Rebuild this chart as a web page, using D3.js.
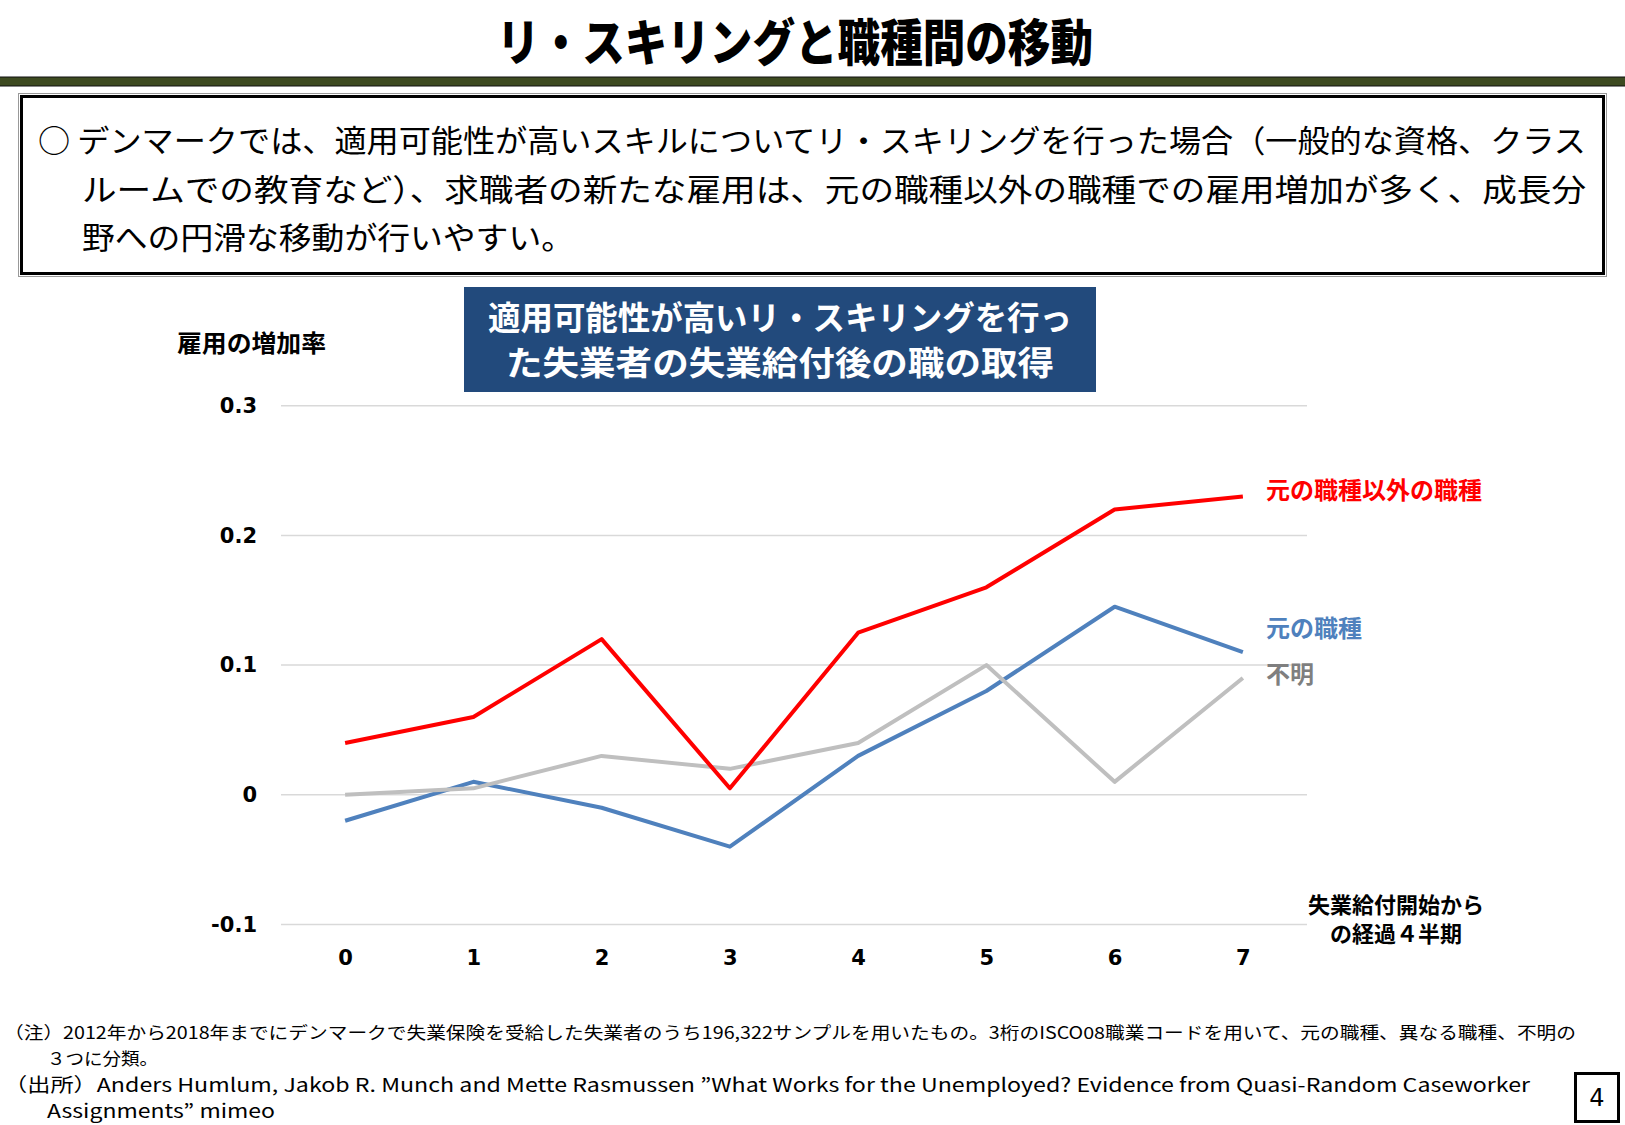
<!DOCTYPE html>
<html>
<head>
<meta charset="utf-8">
<script src="https://cdn.jsdelivr.net/npm/d3@7"></script>
<style>
  body { margin: 0; background: #fff; }
  svg { display: block; }
</style>
</head>
<body>
<svg id="slide" width="1625" height="1125"></svg>
<script>
// data
const quarters = [0, 1, 2, 3, 4, 5, 6, 7];
const otherJob = [0.04, 0.06, 0.12, 0.005, 0.125, 0.16, 0.22, 0.23];
const sameJob = [-0.02, 0.01, -0.01, -0.04, 0.03, 0.08, 0.145, 0.11];
const unknownJob = [0, 0.005, 0.03, 0.02, 0.04, 0.1, 0.01, 0.09];
const yTicks = [-0.1, 0, 0.1, 0.2, 0.3];
const yTickLabels = ["-0.1", "0", "0.1", "0.2", "0.3"];
const seriesNames = ["元の職種以外の職種", "元の職種", "不明"];

const jpFont = "'Noto Sans CJK JP', 'Noto Sans', sans-serif";
const numFont = "'DejaVu Sans', Verdana, sans-serif";

const svg = d3.select("#slide");

// page title
svg
  .append("text")
  .attr("x", 497)
  .attr("y", 39)
  .attr("dominant-baseline", "central")
  .attr("font-family", jpFont)
  .attr("font-weight", 900)
  .attr("font-size", 50)
  .attr("textLength", 596)
  .attr("lengthAdjust", "spacingAndGlyphs")
  .text("リ・スキリングと職種間の移動");

// green rule under the title
svg
  .append("rect")
  .attr("x", -1)
  .attr("y", 77)
  .attr("width", 1627)
  .attr("height", 9)
  .attr("fill", "#3d4a20")
  .attr("stroke", "#111")
  .attr("stroke-width", 1);

// summary box
svg
  .append("rect")
  .attr("x", 18.5)
  .attr("y", 93.5)
  .attr("width", 1588)
  .attr("height", 183)
  .attr("fill", "none")
  .attr("stroke", "#999")
  .attr("stroke-width", 1);
svg
  .append("rect")
  .attr("x", 21.5)
  .attr("y", 96.5)
  .attr("width", 1582)
  .attr("height", 177)
  .attr("fill", "#fff")
  .attr("stroke", "#000")
  .attr("stroke-width", 3);

const summaryLines = [
  { text: "○ デンマークでは、適用可能性が高いスキルについてリ・スキリングを行った場合（一般的な資格、クラス", x: 38, y: 138, w: 1548 },
  { text: "ルームでの教育など）、求職者の新たな雇用は、元の職種以外の職種での雇用増加が多く、成長分", x: 82, y: 187, w: 1504 },
  { text: "野への円滑な移動が行いやすい。", x: 82, y: 235, w: 492 },
];
svg
  .selectAll(".summary")
  .data(summaryLines)
  .join("text")
  .attr("class", "summary")
  .attr("x", (d) => d.x)
  .attr("y", (d) => d.y)
  .attr("dominant-baseline", "central")
  .attr("font-family", jpFont)
  .attr("font-size", 31)
  .attr("textLength", (d) => d.w)
  .attr("lengthAdjust", "spacingAndGlyphs")
  .text((d) => d.text);

// scales
const xScale = d3.scalePoint().domain(quarters).range([281, 1307]).padding(0.5);
const yScale = d3.scaleLinear().domain([-0.1, 0.3]).range([924.5, 405.7]);

// gridlines
svg
  .append("g")
  .selectAll("line")
  .data(yTicks)
  .join("line")
  .attr("x1", 281)
  .attr("x2", 1307)
  .attr("y1", (d) => yScale(d))
  .attr("y2", (d) => yScale(d))
  .attr("stroke", "#d9d9d9")
  .attr("stroke-width", 1.5);

// y axis labels
const yAxis = svg
  .append("g")
  .attr("transform", "translate(281,0)")
  .call(
    d3
      .axisLeft(yScale)
      .tickValues(yTicks)
      .tickSize(0)
      .tickPadding(24)
      .tickFormat((d, i) => yTickLabels[i])
  );
yAxis.select(".domain").remove();
yAxis
  .selectAll("text")
  .attr("font-family", numFont)
  .attr("font-weight", "bold")
  .attr("font-size", 21)
  .attr("fill", "#000");

// x axis labels
const xAxis = svg
  .append("g")
  .attr("transform", "translate(0,946)")
  .call(d3.axisBottom(xScale).tickSize(0).tickPadding(4));
xAxis.select(".domain").remove();
xAxis
  .selectAll("text")
  .attr("font-family", numFont)
  .attr("font-weight", "bold")
  .attr("font-size", 21)
  .attr("fill", "#000");

// lines
const series = [
  { name: seriesNames[1], values: sameJob, color: "#4f81bd" },
  { name: seriesNames[2], values: unknownJob, color: "#bfbfbf" },
  { name: seriesNames[0], values: otherJob, color: "#ff0000" },
];
const line = d3
  .line()
  .x((d, i) => xScale(quarters[i]))
  .y((d) => yScale(d));

svg
  .append("g")
  .selectAll("path")
  .data(series)
  .join("path")
  .attr("d", (d) => line(d.values))
  .attr("fill", "none")
  .attr("stroke", (d) => d.color)
  .attr("stroke-width", 4)
  .attr("stroke-linejoin", "round");

// series labels
const seriesLabels = [
  { text: seriesNames[0], y: 488, color: "#ff0000" },
  { text: seriesNames[1], y: 626, color: "#4f81bd" },
  { text: seriesNames[2], y: 672, color: "#7f7f7f" },
];
svg
  .selectAll(".series-label")
  .data(seriesLabels)
  .join("text")
  .attr("class", "series-label")
  .attr("x", 1266)
  .attr("y", (d) => d.y)
  .attr("dominant-baseline", "central")
  .attr("font-family", jpFont)
  .attr("font-weight", "bold")
  .attr("font-size", 24)
  .attr("fill", (d) => d.color)
  .text((d) => d.text);

// y axis title
svg
  .append("text")
  .attr("x", 177)
  .attr("y", 341)
  .attr("dominant-baseline", "central")
  .attr("font-family", jpFont)
  .attr("font-weight", "bold")
  .attr("font-size", 24)
  .attr("textLength", 149)
  .attr("lengthAdjust", "spacingAndGlyphs")
  .text("雇用の増加率");

// chart title box
svg
  .append("rect")
  .attr("x", 464)
  .attr("y", 287)
  .attr("width", 632)
  .attr("height", 105)
  .attr("fill", "#224a7c");
svg
  .selectAll(".chart-title")
  .data([
    { text: "適用可能性が高いリ・スキリングを行っ", w: 584 },
    { text: "た失業者の失業給付後の職の取得", w: 548 },
  ])
  .join("text")
  .attr("class", "chart-title")
  .attr("x", 780)
  .attr("y", (d, i) => 316 + i * 45)
  .attr("text-anchor", "middle")
  .attr("dominant-baseline", "central")
  .attr("font-family", jpFont)
  .attr("font-weight", "bold")
  .attr("font-size", 33)
  .attr("fill", "#fff")
  .attr("textLength", (d) => d.w)
  .attr("lengthAdjust", "spacingAndGlyphs")
  .text((d) => d.text);

// x axis title
svg
  .selectAll(".x-title")
  .data(["失業給付開始から", "の経過４半期"])
  .join("text")
  .attr("class", "x-title")
  .attr("x", 1396)
  .attr("y", (d, i) => 903 + i * 29)
  .attr("text-anchor", "middle")
  .attr("dominant-baseline", "central")
  .attr("font-family", jpFont)
  .attr("font-weight", "bold")
  .attr("font-size", 22)
  .text((d) => d);

// footnotes
const notes = [
  { text: "（注）2012年から2018年までにデンマークで失業保険を受給した失業者のうち196,322サンプルを用いたもの。3桁のISCO08職業コードを用いて、元の職種、異なる職種、不明の", x: 4, y: 1031, w: 1572, size: 17 },
  { text: "３つに分類。", x: 47, y: 1057, w: 111, size: 17 },
  { text: "（出所）Anders Humlum, Jakob R. Munch and Mette Rasmussen ”What Works for the Unemployed? Evidence from Quasi-Random Caseworker", x: 4, y: 1083, w: 1526, size: 19 },
  { text: "Assignments” mimeo", x: 47, y: 1109, w: 228, size: 19 },
];
svg
  .selectAll(".note")
  .data(notes)
  .join("text")
  .attr("class", "note")
  .attr("x", (d) => d.x)
  .attr("y", (d) => d.y)
  .attr("dominant-baseline", "central")
  .attr("font-family", jpFont)
  .attr("font-size", (d) => d.size)
  .attr("textLength", (d) => d.w)
  .attr("lengthAdjust", "spacingAndGlyphs")
  .text((d) => d.text);

// page number
svg
  .append("rect")
  .attr("x", 1575.5)
  .attr("y", 1073.5)
  .attr("width", 43)
  .attr("height", 48)
  .attr("fill", "#fff")
  .attr("stroke", "#000")
  .attr("stroke-width", 3);
svg
  .append("text")
  .attr("x", 1597)
  .attr("y", 1098)
  .attr("text-anchor", "middle")
  .attr("dominant-baseline", "central")
  .attr("font-family", "'DejaVu Sans', sans-serif")
  .attr("font-size", 24)
  .text("4");
</script>
</body>
</html>
